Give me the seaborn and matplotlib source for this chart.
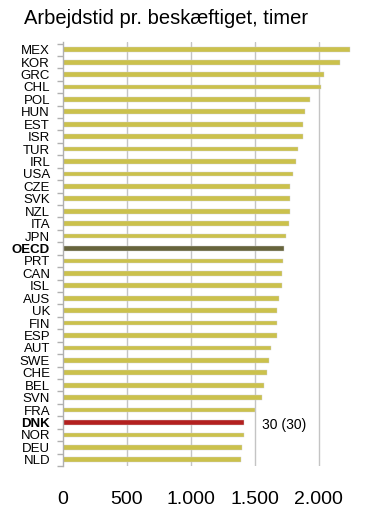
import matplotlib
matplotlib.use("Agg")
import matplotlib.pyplot as plt
import seaborn as sns
import pandas as pd
import numpy as np

# Hours worked per employed person
countries = ["MEX", "KOR", "GRC", "CHL", "POL", "HUN", "EST", "ISR", "TUR", "IRL",
             "USA", "CZE", "SVK", "NZL", "ITA", "JPN", "OECD", "PRT", "CAN", "ISL",
             "AUS", "UK", "FIN", "ESP", "AUT", "SWE", "CHE", "BEL", "SVN", "FRA",
             "DNK", "NOR", "DEU", "NLD"]
hours = [2246, 2170, 2044, 2020, 1929, 1893, 1875, 1875, 1841, 1820,
         1799, 1778, 1778, 1773, 1766, 1742, 1732, 1721, 1713, 1713,
         1687, 1677, 1672, 1672, 1628, 1615, 1594, 1575, 1557, 1500,
         1417, 1419, 1398, 1391]
x_ticks = [0, 500, 1000, 1500, 2000]
x_ticklabels = ["0", "500", "1.000", "1.500", "2.000"]
highlight = ["OECD", "DNK"]
rank_note = "30 (30)"

df = pd.DataFrame({"country": countries, "hours": hours})

yellow = "#cbc14c"
palette = {c: yellow for c in countries}
palette["OECD"] = "#67643c"
palette["DNK"] = "#b3201f"

sns.set_style("white")
plt.rcParams["font.family"] = ["Liberation Sans", "DejaVu Sans"]
plt.rcParams["text.color"] = "black"
plt.rcParams["xtick.labelcolor"] = "black"
plt.rcParams["ytick.labelcolor"] = "black"

fig = plt.figure(figsize=(3.66, 5.18), dpi=100)
ax = fig.add_axes([0.171, 0.1004, 0.8044, 0.8185])

sns.barplot(data=df, x="hours", y="country", hue="country", palette=palette,
            legend=False, width=0.38, orient="h", ax=ax,
            edgecolor="#d0d0d0", linewidth=0.3, saturation=1)

ax.set_xlim(0, 2300)
ax.set_ylim(33.44, -0.62)
ax.set_xlabel("")
ax.set_ylabel("")

# vertical grid
for x in x_ticks[1:]:
    ax.axvline(x, color="#c4c4c4", lw=1, zorder=0)

ax.set_xticks(x_ticks)
ax.set_xticklabels(x_ticklabels, fontsize=14)
ax.tick_params(axis="x", length=0, pad=18)

ax.set_yticks(range(len(countries)))
ax.set_yticklabels(countries, fontsize=9.5)
ax.tick_params(axis="y", which="major", length=0, pad=9)
ax.set_yticks(np.arange(-0.5, len(countries), 1), minor=True)
ax.tick_params(axis="y", which="minor", length=4, color="#b0b0b0", width=1, left=True)
for lab in ax.get_yticklabels():
    if lab.get_text() in highlight:
        lab.set_fontweight("bold")

for s in ["top", "right", "bottom"]:
    ax.spines[s].set_visible(False)
ax.spines["left"].set_color("#b0b0b0")
ax.spines["left"].set_linewidth(1)

ax.text(1555, 30.2, rank_note, fontsize=10, va="center", ha="left")

fig.text(0.066, 0.965, "Arbejdstid pr. beskæftiget, timer", fontsize=14.5,
         va="center", ha="left")

fig.savefig("out.png", dpi=100)
